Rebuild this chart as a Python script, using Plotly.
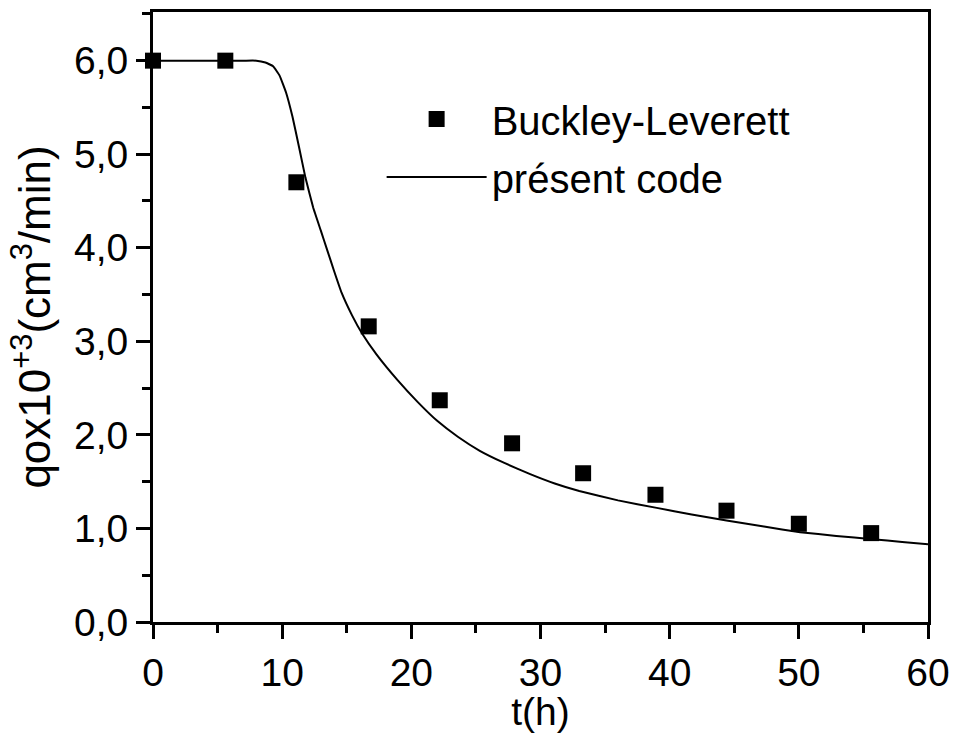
import plotly.graph_objects as go

# Buckley-Leverett reference solution (squares)
bl_t = [0.0, 5.6, 11.1, 16.7, 22.2, 27.8, 33.3, 38.9, 44.4, 50.0, 55.6]
bl_q = [6.0, 6.0, 4.70, 3.16, 2.37, 1.91, 1.59, 1.36, 1.19, 1.05, 0.95]

# present code result (solid curve)
code_t = [0.0, 7.0, 8.0, 8.7, 9.3, 9.8, 10.3, 10.8, 11.3, 11.8, 12.4, 13.0,
          13.5, 14.0, 14.6, 15.4, 16.2, 17.3, 18.9, 20.5, 22.0, 23.6, 25.3,
          27.2, 29.2, 31.1, 33.0, 36.0, 39.0, 41.7, 44.4, 47.3, 50.1, 52.9,
          55.7, 58.0, 60.0]
code_q = [6.0, 6.0, 6.0, 5.98, 5.94, 5.84, 5.66, 5.40, 5.08, 4.75, 4.43, 4.18,
          3.97, 3.76, 3.52, 3.28, 3.08, 2.86, 2.59, 2.35, 2.15, 1.98, 1.83,
          1.70, 1.58, 1.48, 1.40, 1.30, 1.22, 1.15, 1.085, 1.02, 0.96, 0.92,
          0.885, 0.855, 0.83]

FONT = "Liberation Sans, Arial, sans-serif"
TICK_SIZE = 39
XTITLE_SIZE = 39
YTITLE_SIZE = 44
LEGEND_SIZE = 40

fig = go.Figure()
fig.add_trace(go.Scatter(
    x=bl_t, y=bl_q, mode="markers", name="Buckley-Leverett",
    marker=dict(symbol="square", size=16, color="black"),
    cliponaxis=False, legendgroup="a",
))
fig.add_trace(go.Scatter(
    x=code_t, y=code_q, mode="lines", name="présent code",
    line=dict(color="black", width=2, shape="spline", smoothing=0.3),
    legendgroup="b",
))

axis_common = dict(
    showline=True, linewidth=3, linecolor="black", mirror=True,
    ticks="outside", ticklen=14, tickwidth=3, tickcolor="black",
    showgrid=False, zeroline=False,
    tickfont=dict(size=TICK_SIZE, color="black", family=FONT),
)

fig.update_xaxes(
    range=[0, 60], dtick=10, tick0=0, automargin="bottom",
    minor=dict(ticks="outside", ticklen=8, tickwidth=3, tickcolor="black", dtick=5),
    title=dict(text="t(h)", font=dict(size=XTITLE_SIZE, color="black", family=FONT),
               standoff=0),
    **axis_common,
)
fig.update_yaxes(
    range=[0, 6.52], dtick=1, tick0=0, tickformat=".1f", automargin="left",
    minor=dict(ticks="outside", ticklen=8, tickwidth=3, tickcolor="black", dtick=0.5),
    title=dict(text="qox10<sup>+3</sup>(cm<sup>3</sup>/min)",
               font=dict(size=YTITLE_SIZE, color="black", family=FONT), standoff=10),
    **axis_common,
)

fig.update_layout(
    width=953, height=733,
    margin=dict(l=153, r=25, t=12, b=111),
    paper_bgcolor="white", plot_bgcolor="white",
    separators=",.",
    font=dict(family=FONT, color="black"),
    showlegend=True,
    legend=dict(
        x=0.295, y=0.878, xanchor="left", yanchor="top",
        bgcolor="rgba(0,0,0,0)", borderwidth=0,
        font=dict(size=LEGEND_SIZE, color="black", family=FONT),
        itemwidth=100, tracegroupgap=3, traceorder="grouped",
    ),
)

fig.write_html("out.html")
